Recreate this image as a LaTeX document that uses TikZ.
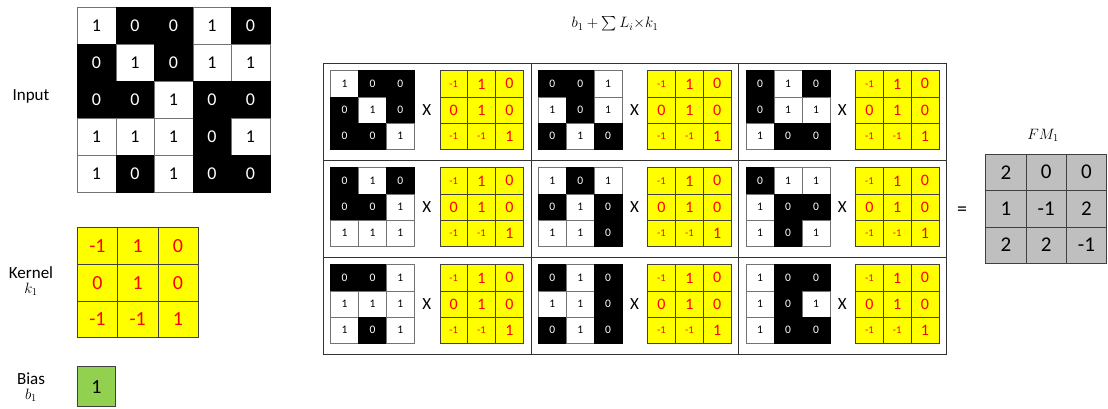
\RequirePackage{fix-cm}
\documentclass[tikz,border=0pt]{standalone}
\usepackage{amsmath}
\usepackage{fontspec}
\setmainfont{Carlito}
\usepackage{tikz}
\usetikzlibrary{positioning}
\definecolor{kyellow}{HTML}{FFFF00}
\definecolor{kred}{HTML}{FF0000}
\definecolor{fmgray}{HTML}{BFBFBF}
\definecolor{bgreen}{HTML}{92D050}
\definecolor{gridline}{HTML}{404040}
\newcommand\setfs[1]{\fontsize{#1}{#1}\selectfont}
% the 5x5 input, row by row
\def\inp{{1,0,0,1,0, 0,1,0,1,1, 0,0,1,0,0, 1,1,1,0,1, 1,0,1,0,0}}
\def\ker{{-1,1,0, 0,1,0, -1,-1,1}}

\begin{document}
\begin{tikzpicture}[x=1pt, y=-1pt,
  cell/.style={inner sep=0pt, outer sep=0pt, anchor=north west, line width=0.6pt},
  lbl/.style={font=\setfs{17}, align=center},
  tableline/.style={draw=black!80, line width=1pt}]
\useasboundingbox (0,0) rectangle (1108,408);

% ---------- left column: input, kernel and bias
\node[lbl] (inputlbl) at (31,96) {Input};
\foreach \i in {0,...,4}{
  \foreach \j in {0,...,4}{
    \pgfmathtruncatemacro\v{\inp[5*\i+\j]}
    \ifnum\v=1 \def\cf{white}\def\ct{black}\def\cd{black!55}%
    \else \def\cf{black}\def\ct{white}\def\cd{black}\fi
    \node[cell, draw=\cd, fill=\cf, text=\ct, font=\setfs{18},
          minimum width=38.5pt, minimum height=37pt]
      (in-\i-\j) at (77.3+38.5*\j, 7.5+37*\i) {\v};
  }}

\node[lbl] (kernellbl) at (31,281) {Kernel\\[-2pt]{\setfs{15}$k_1$}};
\foreach \i in {0,1,2}{
  \foreach \j in {0,1,2}{
    \pgfmathtruncatemacro\kv{\ker[3*\i+\j]}
    \node[cell, draw=gridline, fill=kyellow, text=kred, font=\setfs{20},
          minimum width=40.3pt, minimum height=36.6pt]
      (k-\i-\j) at (77.3+40.3*\j, 227.7+36.6*\i) {\kv};
  }}

\node[lbl] (biaslbl) at (31,387) {Bias\\[-2pt]{\setfs{15}$b_1$}};
\node[cell, draw=gridline, line width=1.2pt, fill=bgreen, font=\setfs{20},
      minimum width=38.5pt, minimum height=40pt] (bias) at (77.3,366.7) {1};

% ---------- middle: the nine windows times the kernel
\node[font=\setfs{15}] (sumlbl) at (615,24) {$b_1+\sum L_i{\times}k_1$};
\draw[tableline] (323.3,63.3) rectangle (946.7,354.3);
\draw[tableline] (531.1,63.3) -- (531.1,354.3);
\draw[tableline] (738.9,63.3) -- (738.9,354.3);
\draw[tableline] (323.3,160.3) -- (946.7,160.3);
\draw[tableline] (323.3,257.3) -- (946.7,257.3);

\foreach \I in {0,1,2}{
  \foreach \J in {0,1,2}{
    \pgfmathsetmacro\cx{323.3+207.8*\J}
    \pgfmathsetmacro\cy{63.3+97*\I}
    \foreach \i in {0,1,2}{
      \foreach \j in {0,1,2}{
        \pgfmathtruncatemacro\v{\inp[5*(\I+\i)+\J+\j]}
        \ifnum\v=1 \def\cf{white}\def\ct{black}\def\cd{black!55}%
        \else \def\cf{black}\def\ct{white}\def\cd{black}\fi
        \node[cell, draw=\cd, fill=\cf, text=\ct, font=\setfs{11.5},
              minimum width=27.9pt, minimum height=26.2pt]
          (w\I\J-\i-\j) at (\cx+7.3+27.9*\j, \cy+7.4+26.2*\i) {\v};
        \pgfmathtruncatemacro\kv{\ker[3*\i+\j]}
        \ifnum\kv<0 \def\kf{\setfs{10.5}}\else \def\kf{\setfs{16}}\fi
        \node[cell, draw=gridline, fill=kyellow, text=kred, font=\kf,
              minimum width=27.8pt, minimum height=26.3pt]
          (wk\I\J-\i-\j) at (\cx+116.5+27.8*\j, \cy+7.4+26.3*\i) {\kv};
      }}
    \node[font=\setfs{17}] (times\I\J) at (\cx+103.5,\cy+47) {X};
  }}

% ---------- right: the feature map
\node[font=\setfs{20}] (eq) at (962,211) {=};
\node[font=\setfs{15}] (fmlbl) at (1043,135) {$FM_1$};
\foreach \fv [count=\k from 0] in {2,0,0, 1,-1,2, 2,2,-1}{
  \pgfmathtruncatemacro\i{int(\k/3)}
  \pgfmathtruncatemacro\j{mod(\k,3)}
  \node[cell, draw=gridline, fill=fmgray, font=\setfs{21},
        minimum width=40.3pt, minimum height=36.4pt]
    (fm-\i-\j) at (985.7+40.3*\j, 154+36.4*\i) {\fv};
}
\end{tikzpicture}
\end{document}
